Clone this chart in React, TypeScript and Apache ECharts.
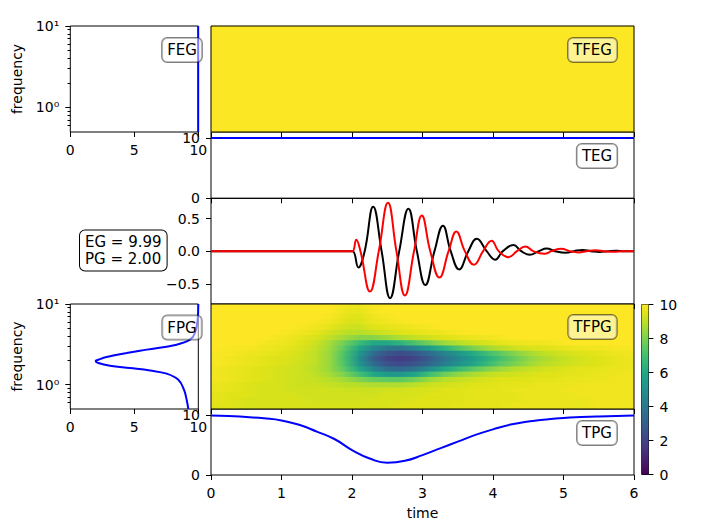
import React, { useEffect, useRef } from 'react';
import * as echarts from 'echarts';

// ---------------- data ----------------
const EG = 9.99;
const PG = 2.0;
const TIME_TICKS = [0, 1, 2, 3, 4, 5, 6];
const MISFIT_TICKS = [0, 5, 10];
const GOF_TICKS = [0, 10];
const SIG_TICKS = [-0.5, 0, 0.5];
const CB_TICKS = [0, 2, 4, 6, 8, 10];
const FREQ_MAJOR = [1, 10];
const FREQ_MINOR = [0.6, 0.7, 0.8, 0.9, 2, 3, 4, 5, 6, 7, 8, 9];

// signal (black)
const SIG_T = [0, 1.95, 2.01, 2.09, 2.18, 2.3, 2.42, 2.54, 2.67, 2.8, 2.92, 3.04, 3.17, 3.29, 3.4, 3.52, 3.65, 3.77, 3.91, 4.03, 4.14, 4.29, 4.4, 4.52, 4.65, 4.76, 4.88, 5.03, 5.15, 5.27, 5.39, 5.51, 5.63, 5.75, 5.87, 6.0];
const SIG_V = [0, 0, 0, -0.25, 0, 0.68, 0, -0.72, 0, 0.65, 0, -0.52, 0, 0.39, 0, -0.28, 0, 0.19, 0, -0.13, 0, 0.095, 0, -0.055, 0, 0.04, 0, -0.025, 0, 0.018, 0, -0.012, 0, 0.008, 0, 0];
// reference signal (red)
const REF_T = [0, 1.97, 2.01, 2.06, 2.12, 2.255, 2.38, 2.51, 2.63, 2.75, 2.88, 2.99, 3.11, 3.24, 3.37, 3.48, 3.6, 3.73, 3.86, 3.98, 4.08, 4.22, 4.34, 4.46, 4.57, 4.73, 4.83, 4.97, 5.09, 5.21, 5.33, 5.45, 5.58, 5.72, 5.85, 6.0];
const REF_V = [0, 0, 0, 0.175, 0, -0.62, 0, 0.74, 0, -0.68, 0, 0.545, 0, -0.405, 0, 0.3, 0, -0.21, 0, 0.16, 0, -0.092, 0, 0.072, 0, -0.04, 0, 0.037, 0, -0.02, 0, 0.015, 0, -0.01, 0, 0];

// envelope GOF
const TEG_T = [0, 6];
const TEG_V = [9.99, 9.99];
const FEG_F = [0.5, 10];
const FEG_V = [9.99, 9.99];
const TFEG_VALUE = 9.99;

// phase GOF
const TPG_T = [0, 0.25, 0.5, 0.75, 1.0, 1.25, 1.5, 1.75, 2.0, 2.25, 2.5, 2.75, 3.0, 3.25, 3.5, 3.75, 4.0, 4.25, 4.5, 4.75, 5.0, 5.25, 5.5, 6.0];
const TPG_V = [9.93, 9.85, 9.66, 9.45, 9.1, 8.37, 7.24, 6.0, 4.16, 2.76, 2.05, 2.36, 3.32, 4.44, 5.56, 6.68, 7.6, 8.4, 8.92, 9.25, 9.5, 9.65, 9.76, 9.93];
const FPG_F = [10, 6.39, 4.37, 3.61, 3.13, 2.72, 2.47, 2.2, 2.04, 1.97, 1.86, 1.72, 1.61, 1.5, 1.37, 1.15, 0.867, 0.652, 0.5];
const FPG_V = [10.0, 9.95, 9.74, 9.35, 8.3, 5.97, 4.4, 2.84, 2.19, 1.98, 2.19, 3.1, 4.66, 6.23, 7.53, 8.44, 8.88, 9.09, 9.22];

// time-frequency phase GOF grid (rows: frequency high -> low, columns: time)
const TF_TIMES = [0.1, 0.3, 0.5, 0.7, 0.9, 1.1, 1.3, 1.5, 1.7, 1.9, 2.1, 2.3, 2.5, 2.7, 2.9, 3.1, 3.3, 3.5, 3.7, 3.9, 4.1, 4.3, 4.5, 4.7, 4.9, 5.1, 5.3, 5.5, 5.7, 5.9];
const TF_FREQS = [9.28, 7.99, 6.88, 5.92, 5.1, 4.39, 3.78, 3.25, 2.8, 2.41, 2.08, 1.79, 1.54, 1.33, 1.14, 0.98, 0.85, 0.73, 0.63, 0.54];
const TFPG = [
  [10, 10, 10, 10, 10, 10, 10, 10, 10, 9.8, 9.7, 9.9, 10, 10, 10, 10, 10, 10, 10, 10, 10, 10, 10, 10, 10, 10, 10, 10, 10, 10],
  [10, 10, 10, 10, 10, 10, 10, 10, 10, 9.7, 9.6, 9.9, 10, 10, 10, 10, 10, 10, 10, 10, 10, 10, 10, 10, 10, 10, 10, 10, 10, 10],
  [10, 10, 10, 10, 10, 10, 10, 10, 9.9, 9.6, 9.5, 9.8, 9.9, 10, 10, 10, 10, 10, 10, 10, 10, 10, 10, 10, 10, 10, 10, 10, 10, 10],
  [10, 10, 10, 10, 10, 10, 10, 9.9, 9.8, 9.5, 9.4, 9.7, 9.8, 9.9, 10, 10, 10, 10, 10, 10, 10, 10, 10, 10, 10, 10, 10, 10, 10, 10],
  [10, 10, 10, 10, 10, 10, 9.9, 9.8, 9.6, 9.3, 9.2, 9.5, 9.6, 9.7, 9.8, 9.9, 10, 10, 10, 10, 10, 10, 10, 10, 10, 10, 10, 10, 10, 10],
  [10, 10, 10, 10, 10, 9.9, 9.8, 9.6, 9.3, 9.0, 8.9, 9.1, 9.3, 9.5, 9.6, 9.7, 9.8, 9.9, 10, 10, 10, 10, 10, 10, 10, 10, 10, 10, 10, 10],
  [10, 10, 10, 10, 9.9, 9.8, 9.6, 9.4, 9.0, 8.6, 8.2, 8.2, 8.5, 8.8, 9.1, 9.3, 9.5, 9.6, 9.7, 9.8, 9.9, 10, 10, 10, 10, 10, 10, 10, 10, 10],
  [10, 10, 10, 9.9, 9.8, 9.7, 9.5, 9.2, 8.6, 7.8, 6.8, 6.0, 6.0, 6.5, 7.2, 7.9, 8.5, 8.9, 9.2, 9.4, 9.6, 9.7, 9.8, 9.8, 9.9, 10, 10, 10, 10, 10],
  [10, 9.9, 9.9, 9.8, 9.7, 9.6, 9.4, 9.1, 8.5, 7.4, 5.9, 4.7, 3.9, 3.8, 4.5, 5.5, 6.4, 7.2, 7.9, 8.5, 8.9, 9.2, 9.4, 9.5, 9.6, 9.7, 9.8, 9.8, 9.9, 9.9],
  [9.9, 9.9, 9.8, 9.7, 9.6, 9.5, 9.3, 9.0, 8.4, 7.1, 5.3, 3.6, 2.6, 2.3, 2.7, 3.5, 4.4, 5.2, 6.0, 6.8, 7.5, 8.1, 8.6, 9.0, 9.2, 9.4, 9.5, 9.6, 9.7, 9.8],
  [9.9, 9.8, 9.7, 9.6, 9.5, 9.4, 9.3, 9.0, 8.4, 7.0, 5.0, 3.0, 2.0, 1.7, 2.1, 2.9, 3.8, 4.6, 5.4, 6.2, 7.0, 7.7, 8.3, 8.7, 9.0, 9.2, 9.4, 9.5, 9.6, 9.7],
  [9.9, 9.8, 9.7, 9.6, 9.5, 9.4, 9.2, 9.0, 8.4, 7.1, 5.2, 3.5, 2.5, 2.2, 2.6, 3.3, 4.2, 5.0, 5.8, 6.6, 7.4, 8.0, 8.5, 8.9, 9.1, 9.3, 9.4, 9.5, 9.6, 9.7],
  [9.8, 9.7, 9.6, 9.5, 9.4, 9.3, 9.2, 8.9, 8.4, 7.4, 6.0, 4.6, 3.6, 3.4, 3.9, 4.9, 5.9, 6.7, 7.4, 8.0, 8.5, 8.9, 9.1, 9.3, 9.4, 9.5, 9.6, 9.6, 9.7, 9.7],
  [9.8, 9.7, 9.6, 9.5, 9.4, 9.3, 9.2, 9.0, 8.6, 8.0, 7.0, 6.0, 5.4, 5.3, 5.9, 6.9, 7.7, 8.3, 8.7, 9.0, 9.2, 9.3, 9.4, 9.5, 9.5, 9.6, 9.6, 9.7, 9.7, 9.8],
  [9.8, 9.7, 9.6, 9.5, 9.4, 9.3, 9.2, 9.1, 8.9, 8.6, 8.1, 7.7, 7.5, 7.5, 7.9, 8.5, 8.9, 9.1, 9.3, 9.4, 9.5, 9.5, 9.5, 9.6, 9.6, 9.7, 9.7, 9.7, 9.8, 9.8],
  [9.7, 9.6, 9.5, 9.4, 9.4, 9.3, 9.2, 9.2, 9.1, 9.0, 8.9, 8.8, 8.8, 8.8, 9.0, 9.2, 9.3, 9.4, 9.5, 9.5, 9.6, 9.6, 9.6, 9.7, 9.7, 9.7, 9.8, 9.8, 9.8, 9.8],
  [9.7, 9.6, 9.5, 9.4, 9.4, 9.3, 9.3, 9.3, 9.3, 9.2, 9.2, 9.2, 9.3, 9.3, 9.4, 9.4, 9.5, 9.5, 9.6, 9.6, 9.6, 9.7, 9.7, 9.7, 9.7, 9.8, 9.8, 9.8, 9.8, 9.8],
  [9.6, 9.5, 9.5, 9.4, 9.4, 9.4, 9.3, 9.3, 9.3, 9.3, 9.3, 9.3, 9.4, 9.4, 9.4, 9.5, 9.5, 9.5, 9.6, 9.6, 9.6, 9.6, 9.7, 9.7, 9.7, 9.7, 9.8, 9.8, 9.8, 9.8],
  [9.6, 9.5, 9.4, 9.4, 9.4, 9.4, 9.4, 9.3, 9.3, 9.3, 9.3, 9.4, 9.4, 9.4, 9.5, 9.5, 9.5, 9.5, 9.6, 9.6, 9.6, 9.6, 9.7, 9.7, 9.7, 9.7, 9.7, 9.8, 9.8, 9.8],
  [9.5, 9.5, 9.4, 9.4, 9.4, 9.4, 9.4, 9.4, 9.4, 9.4, 9.4, 9.4, 9.4, 9.5, 9.5, 9.5, 9.5, 9.6, 9.6, 9.6, 9.6, 9.7, 9.7, 9.7, 9.7, 9.7, 9.7, 9.8, 9.8, 9.8],
];

const VIRIDIS = ['#440154', '#471365', '#482475', '#463480', '#414487', '#3b528b', '#355f8d', '#2f6c8e', '#2a788e', '#25848e', '#21918c', '#1e9c89', '#22a884', '#2fb47c', '#44bf70', '#5ec962', '#7ad151', '#9bd93c', '#bddf26', '#dfe318', '#fde725'];
const V_MIN = 0, V_MAX = 10;

// ---------------- layout ----------------
const FONT = 'DejaVu Sans';
const BLACK = '#000';
const LX = 70.3, LW = 128, RX = 211, RW = 423;
const TOP1 = 26, H1 = 106; // FEG / TFEG
const TOP2 = 132, H2 = 66.3; // TEG
const TOP3 = 198.3, H3 = 105.7; // signals
const TOP4 = 304, H4 = 105; // FPG / TFPG
const TOP5 = 409, H5 = 66; // TPG

const zip = (a: number[], b: number[]) => a.map((v, k) => [v, b[k]]);
const FREQ_EDGES = (() => {
  const e = [10];
  for (let k = 1; k < TF_FREQS.length; k++) e.push(Math.sqrt(TF_FREQS[k - 1] * TF_FREQS[k]));
  e.push(0.5);
  return e;
})();

const hex = (c: string) => [1, 3, 5].map((p) => parseInt(c.slice(p, p + 2), 16));
const VIR_RGB = VIRIDIS.map(hex);
const viridis = (v: number) => {
  const t = Math.min(1, Math.max(0, (v - V_MIN) / (V_MAX - V_MIN))) * (VIR_RGB.length - 1);
  const k = Math.min(VIR_RGB.length - 2, Math.floor(t));
  const f = t - k;
  const c = VIR_RGB[k].map((a, n) => Math.round(a + (VIR_RGB[k + 1][n] - a) * f));
  return `rgb(${c[0]},${c[1]},${c[2]})`;
};

const tickStyle = (len: number) => ({ show: true, length: len, inside: false, lineStyle: { color: BLACK, width: 1 } });
const lbl = (margin: number, extra: any = {}) => ({ show: true, color: BLACK, fontSize: 14, fontFamily: FONT, margin, ...extra });
const NO_LINE = { show: false, onZero: false };

const grid = (left: number, top: number, width: number, height: number, extra: any = {}) => ({
  left, top, width, height, show: true, borderColor: BLACK, borderWidth: 1, backgroundColor: 'transparent', containLabel: false, outerBoundsMode: 'none', ...extra,
});

const timeAxis = (gridIndex: number, labels: boolean, extra: any = {}) => ({
  type: 'value', gridIndex, min: 0, max: 6, interval: 1, position: 'bottom',
  axisLine: NO_LINE, axisTick: tickStyle(5),
  axisLabel: labels ? lbl(11, { customValues: TIME_TICKS }) : { show: false },
  splitLine: { show: false }, ...extra,
});
const misfitAxis = (gridIndex: number) => ({
  type: 'value', gridIndex, min: 0, max: 10, interval: 5, position: 'bottom',
  axisLine: NO_LINE, axisTick: { ...tickStyle(5), customValues: MISFIT_TICKS },
  axisLabel: lbl(11, { customValues: MISFIT_TICKS }), splitLine: { show: false },
});
const hidden = (gridIndex: number, type: string, extra: any = {}) => ({ type, gridIndex, show: false, axisLine: NO_LINE, ...extra });
const logMajor = (gridIndex: number) => ({
  type: 'value', gridIndex, min: Math.log10(0.5), max: 1, position: 'left', offset: 0,
  axisLine: NO_LINE,
  axisTick: { ...tickStyle(5), customValues: FREQ_MAJOR.map(Math.log10) },
  axisLabel: lbl(11, { customValues: FREQ_MAJOR.map(Math.log10), formatter: (v: number) => (Math.abs(v) < 1e-6 ? '10\u2070' : Math.abs(v - 1) < 1e-6 ? '10\u00b9' : '') }),
  splitLine: { show: false },
  name: 'frequency', nameLocation: 'middle', nameGap: 46, nameRotate: 90,
  nameTextStyle: { color: BLACK, fontSize: 14, fontFamily: FONT },
});
const logMinor = (gridIndex: number) => ({
  type: 'value', gridIndex, min: Math.log10(0.5), max: 1, position: 'left', offset: 0,
  axisLine: NO_LINE,
  axisTick: { ...tickStyle(2.8), customValues: FREQ_MINOR.map(Math.log10) },
  axisLabel: lbl(11, { customValues: FREQ_MINOR.map(Math.log10), formatter: () => '' }),
  splitLine: { show: false },
});
const gofAxis = (gridIndex: number) => ({
  type: 'value', gridIndex, min: 0, max: 11, interval: 10, position: 'left',
  axisLine: NO_LINE, axisTick: { ...tickStyle(5), customValues: GOF_TICKS },
  axisLabel: lbl(11, { customValues: GOF_TICKS, formatter: (v: number) => (GOF_TICKS.includes(v) ? String(v) : '') }),
  splitLine: { show: false },
});

const boxText = (text: string, x: number, y: number, fill: string) => ({
  type: 'text', x, y, z: 100,
  style: {
    text, fontSize: 15, fontFamily: FONT, fill: BLACK, align: 'center', verticalAlign: 'middle', lineHeight: 16,
    backgroundColor: fill, borderColor: 'rgba(0,0,0,0.5)', borderWidth: 1, borderRadius: 5, padding: [4, 5],
  },
});

export default function App() {
  const ref = useRef<HTMLDivElement>(null);
  useEffect(() => {
    if (!ref.current) return;
    const chart = echarts.init(ref.current, undefined, { renderer: 'svg' });
    const nT = TF_TIMES.length;
    const tfpgData: any[] = [];
    TFPG.forEach((row, i) => row.forEach((v, j) => tfpgData.push([TF_TIMES[j], TF_FREQS[i], v, j, i])));

    const option: any = {
      animation: false,
      backgroundColor: '#fff',
      textStyle: { fontFamily: FONT },
      grid: [
        grid(LX, TOP1, LW, H1), // 0 FEG
        grid(RX, TOP1, RW, H1, { show: false }), // 1 TFEG data
        grid(RX, TOP1, RW, H1, { z: 5 }), // 2 TFEG frame
        grid(RX, TOP2, RW, H2), // 3 TEG
        grid(RX, TOP3, RW, H3), // 4 signals
        grid(LX, TOP4, LW, H4), // 5 FPG
        grid(RX, TOP4, RW, H4, { show: false }), // 6 TFPG data
        grid(RX, TOP4, RW, H4, { z: 5 }), // 7 TFPG frame
        grid(RX, TOP5, RW, H5), // 8 TPG
        grid(641.7, TOP4 + 0.5, 6.7, 170), // 9 colorbar
      ],
      xAxis: [
        misfitAxis(0),
        hidden(1, 'category', { data: ['t'] }),
        timeAxis(2, false),
        timeAxis(3, false),
        timeAxis(4, false),
        misfitAxis(5),
        hidden(6, 'value', { min: 0, max: 6 }),
        timeAxis(7, false),
        timeAxis(8, true, { name: 'time', nameLocation: 'middle', nameGap: 31, nameTextStyle: { color: BLACK, fontSize: 14, fontFamily: FONT } }),
        hidden(9, 'category', { data: ['cb'] }),
      ],
      yAxis: [
        hidden(0, 'log', { min: 0.5, max: 10, logBase: 10, position: 'left' }),
        logMajor(0),
        logMinor(0),
        hidden(1, 'category', { data: ['f'] }),
        hidden(2, 'value', { min: 0, max: 1 }),
        gofAxis(3),
        {
          type: 'value', gridIndex: 4, min: -0.81, max: 0.81, position: 'left',
          axisLine: NO_LINE, axisTick: { ...tickStyle(5), customValues: SIG_TICKS },
          axisLabel: lbl(11, { customValues: SIG_TICKS, formatter: (v: number) => (SIG_TICKS.includes(v) ? (v < 0 ? '\u2212' : '') + Math.abs(v).toFixed(1) : '') }),
          splitLine: { show: false },
        },
        hidden(5, 'log', { min: 0.5, max: 10, logBase: 10, position: 'left' }),
        logMajor(5),
        logMinor(5),
        hidden(6, 'log', { min: 0.5, max: 10, logBase: 10 }),
        hidden(7, 'value', { min: 0, max: 1 }),
        gofAxis(8),
        {
          type: 'value', gridIndex: 9, min: 0, max: 10, interval: 2, position: 'right',
          axisLine: NO_LINE, axisTick: { ...tickStyle(5), customValues: CB_TICKS },
          axisLabel: lbl(11, { customValues: CB_TICKS }), splitLine: { show: false },
        },
      ],
      visualMap: [{
        type: 'continuous', show: false, min: V_MIN, max: V_MAX, dimension: 2, seriesIndex: [1],
        inRange: { color: VIRIDIS },
      }],
      series: [
        { type: 'line', xAxisIndex: 0, yAxisIndex: 0, data: zip(FEG_V, FEG_F), symbol: 'none', lineStyle: { color: '#0000ff', width: 2 } },
        { type: 'heatmap', xAxisIndex: 1, yAxisIndex: 3, data: [[0, 0, TFEG_VALUE]], itemStyle: { borderWidth: 0 } },
        { type: 'line', xAxisIndex: 3, yAxisIndex: 5, data: zip(TEG_T, TEG_V), symbol: 'none', lineStyle: { color: '#0000ff', width: 2 } },
        { type: 'line', xAxisIndex: 4, yAxisIndex: 6, data: zip(SIG_T, SIG_V), symbol: 'none', smooth: 0.45, lineStyle: { color: '#000000', width: 2 } },
        { type: 'line', xAxisIndex: 4, yAxisIndex: 6, data: zip(REF_T, REF_V), symbol: 'none', smooth: 0.45, lineStyle: { color: '#ff0000', width: 2 } },
        { type: 'line', xAxisIndex: 5, yAxisIndex: 7, data: zip(FPG_V, FPG_F), symbol: 'none', smooth: 0.4, lineStyle: { color: '#0000ff', width: 2 } },
        {
          type: 'custom', xAxisIndex: 6, yAxisIndex: 10, data: tfpgData, clip: true,
          renderItem: (params: any, api: any) => {
            const t = api.value(0), v = api.value(2), j = api.value(3), i = api.value(4);
            const row = TFPG[i];
            const fTop = FREQ_EDGES[i], fBot = FREQ_EDGES[i + 1];
            const children: any[] = [];
            const addRect = (t0: number, t1: number, c0: string, c1: string) => {
              const p0 = api.coord([t0, fTop]);
              const p1 = api.coord([t1, fBot]);
              children.push({
                type: 'rect',
                shape: { x: p0[0] - 0.5, y: p0[1] - 0.5, width: p1[0] - p0[0] + 1, height: p1[1] - p0[1] + 1 },
                style: { fill: c0 === c1 ? c0 : new echarts.graphic.LinearGradient(0, 0, 1, 0, [{ offset: 0, color: c0 }, { offset: 1, color: c1 }]) },
              });
            };
            const c = viridis(v);
            if (j === 0) addRect(0, t, c, c);
            if (j < nT - 1) addRect(t, TF_TIMES[j + 1], c, viridis(row[j + 1]));
            else addRect(t, 6, c, c);
            return { type: 'group', children };
          },
        },
        { type: 'line', xAxisIndex: 8, yAxisIndex: 12, data: zip(TPG_T, TPG_V), symbol: 'none', smooth: 0.5, lineStyle: { color: '#0000ff', width: 2 } },
        {
          type: 'bar', xAxisIndex: 9, yAxisIndex: 13, data: [10], barWidth: '100%',
          itemStyle: { color: new echarts.graphic.LinearGradient(0, 1, 0, 0, VIRIDIS.map((c, k) => ({ offset: k / (VIRIDIS.length - 1), color: c }))) },
        },
      ],
      graphic: [
        boxText('FEG', 182, 50, 'rgba(255,255,255,0.5)'),
        boxText('TFEG', 592.5, 50, 'rgba(255,255,255,0.5)'),
        boxText('TEG', 597, 156, 'rgba(255,255,255,0.5)'),
        boxText('FPG', 182, 327.5, 'rgba(255,255,255,0.5)'),
        boxText('TFPG', 592.5, 327, 'rgba(255,255,255,0.5)'),
        boxText('TPG', 597, 433, 'rgba(255,255,255,0.5)'),
        {
          type: 'text', x: 80, y: 250.5, z: 100,
          style: {
            text: `EG = ${EG.toFixed(2)}\nPG = ${PG.toFixed(2)}`, fontSize: 15, fontFamily: FONT, fill: BLACK,
            align: 'left', verticalAlign: 'middle', lineHeight: 17,
            backgroundColor: '#fff', borderColor: BLACK, borderWidth: 1, borderRadius: 5, padding: [3, 5],
          },
        },
      ],
    };
    chart.setOption(option);
    return () => chart.dispose();
  }, []);
  return <div ref={ref} style={{ position: 'fixed', left: 0, top: 0, width: 704, height: 528, background: '#fff' }} />;
}
